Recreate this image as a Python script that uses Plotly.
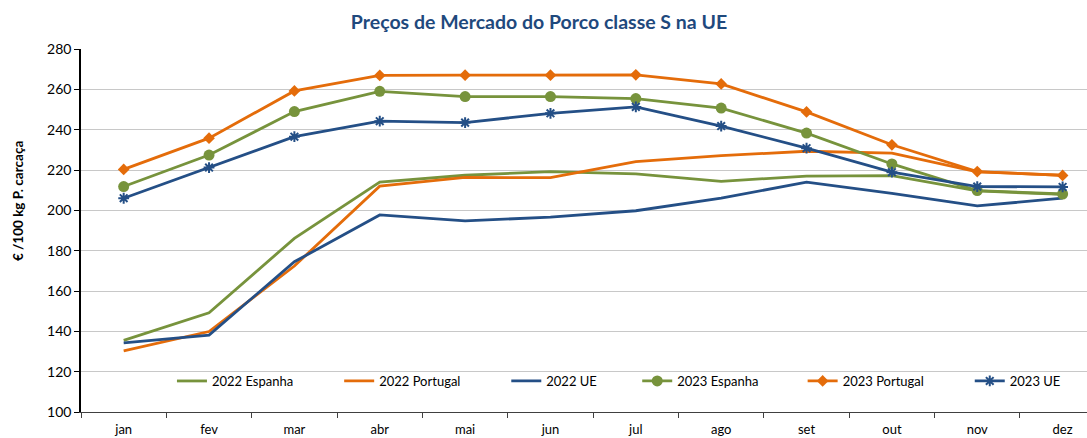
import plotly.graph_objects as go

months = ["jan", "fev", "mar", "abr", "mai", "jun", "jul", "ago", "set", "out", "nov", "dez"]

esp_2022 = [135.5, 149.2, 186.1, 214.0, 217.4, 219.2, 218.1, 214.4, 217.0, 217.2, 209.6, 207.9]
por_2022 = [130.3, 139.9, 172.4, 212.0, 216.3, 216.2, 224.2, 227.1, 229.3, 228.4, 219.1, 217.4]
ue_2022 = [134.3, 138.1, 174.5, 197.7, 194.8, 196.6, 199.8, 206.0, 214.0, 208.4, 202.2, 206.0]
esp_2023 = [211.8, 227.4, 249.0, 259.0, 256.4, 256.4, 255.4, 250.7, 238.3, 223.0, 209.8, 208.1]
por_2023 = [220.3, 235.8, 259.2, 266.9, 267.0, 267.0, 267.2, 262.7, 248.8, 232.5, 219.2, 217.3]
ue_2023 = [206.0, 221.2, 236.5, 244.2, 243.5, 248.1, 251.3, 241.8, 230.8, 218.9, 211.8, 211.6]

GREEN = "#77933C"
ORANGE = "#E46C0A"
BLUE = "#244F86"
FONT = "Lato"

W, H = 1087, 438
L, R, T, B = 80.5, 0, 49, 26
pw = W - L - R
ph = H - T - B
cat_px = 85.4

fig = go.Figure()

series = [
    ("2022 Espanha", esp_2022, GREEN, None, 10, 176.5),
    ("2022 Portugal", por_2022, ORANGE, None, 8, 343.8),
    ("2022 UE", ue_2022, BLUE, None, 8, 511.0),
    ("2023 Espanha", esp_2023, GREEN, "circle", 11, 642.0),
    ("2023 Portugal", por_2023, ORANGE, "diamond", 9, 807.5),
    ("2023 UE", ue_2023, BLUE, "asterisk-open", 9, 974.7),
]

legend_layouts = {}
for i, (name, vals, col, sym, size, lx) in enumerate(series):
    lname = "legend" if i == 0 else f"legend{i+1}"
    if sym is None:
        fig.add_trace(go.Scatter(x=months, y=vals, name=name, mode="lines",
                                 line=dict(color=col, width=2.8), legend=lname))
    else:
        mk = dict(symbol=sym, size=size, color=col)
        if sym == "asterisk-open":
            mk["line"] = dict(color=col, width=2)
        fig.add_trace(go.Scatter(x=months, y=vals, name=name, mode="lines+markers",
                                 line=dict(color=col, width=2.8), marker=mk, legend=lname))
    legend_layouts[lname] = dict(
        x=(lx - 5 - L) / pw, xanchor="left",
        y=(H - B - 381) / ph, yanchor="middle",
        bgcolor="rgba(0,0,0,0)", borderwidth=0,
        font=dict(family=FONT, size=13, color="#000000"),
        itemwidth=30, tracegroupgap=0,
    )

fig.update_layout(
    width=W, height=H,
    margin=dict(l=L, r=R, t=T, b=B),
    paper_bgcolor="white", plot_bgcolor="white",
    title=dict(text="<b>Preços de Mercado do Porco classe S na UE</b>",
               x=539 / W, xanchor="center", y=1 - 22 / H, yanchor="middle",
               font=dict(family=FONT, size=19.5, color="#1F497D")),
    showlegend=True,
    **legend_layouts,
)

fig.update_xaxes(
    type="category", range=[-0.5, -0.5 + pw / cat_px],
    showline=True, linecolor="#404040", linewidth=1,
    ticks="outside", tickson="boundaries", ticklen=5, tickcolor="#404040",
    ticklabelstandoff=5, automargin=False,
    showgrid=False, tickfont=dict(family=FONT, size=13, color="#000000"),
)
fig.update_yaxes(
    range=[100, 280], dtick=20,
    showline=True, linecolor="#000000", linewidth=1.5,
    ticks="outside", ticklen=5, tickcolor="#000000",
    showgrid=True, gridcolor="#C8C8C8", gridwidth=1.2,
    tickfont=dict(family=FONT, size=14, color="#000000"),
    zeroline=False, automargin=False,
)

fig.add_annotation(text="<b>€ /100 kg P. carcaça</b>", textangle=-90,
                   xref="paper", yref="paper", x=(17 - L) / pw, y=(H - B - 201.5) / ph,
                   xanchor="center", yanchor="middle", showarrow=False,
                   font=dict(family=FONT, size=13.5, color="#000000"))

fig.write_html("out.html")
